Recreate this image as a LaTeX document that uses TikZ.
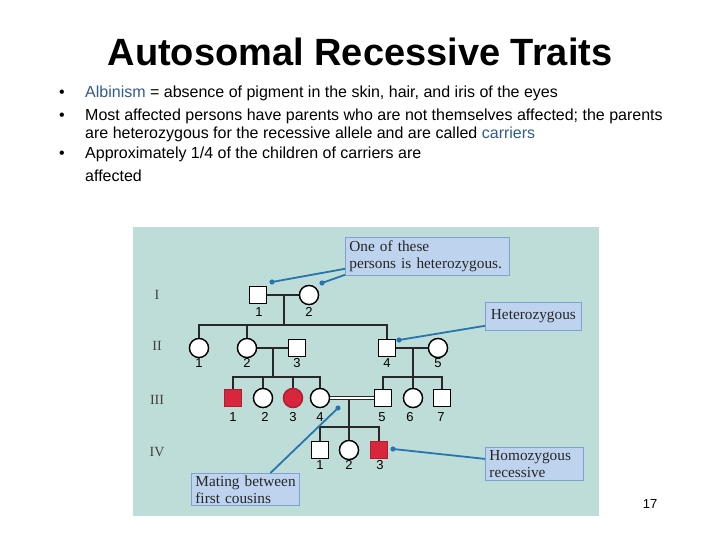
\documentclass[tikz,border=0pt]{standalone}
\usepackage{fontspec}
\setmainfont{Liberation Sans}
\newfontfamily\seriffam{Liberation Serif}
\usetikzlibrary{calc}
\definecolor{panelbg}{RGB}{191,221,216}
\definecolor{boxfill}{RGB}{190,212,238}
\definecolor{boxline}{RGB}{128,160,205}
\definecolor{ptrcol}{RGB}{38,118,174}
\definecolor{affred}{RGB}{216,38,60}
\definecolor{linkblue}{RGB}{51,92,138}
\definecolor{pedline}{RGB}{40,40,40}
\tikzset{
  sq/.style={draw=black, fill=white, line width=1.1pt, minimum size=16pt, inner sep=0pt, rectangle},
  circ/.style={draw=black, fill=white, line width=1.3pt, minimum size=19pt, inner sep=0pt, circle},
  aff/.style={fill=affred, draw=affred!80!black},
  num/.style={font=\fontsize{13}{14}\selectfont, inner sep=0pt},
  gen/.style={font=\seriffam\fontsize{14}{15}\selectfont, text=black!75, inner sep=0pt},
  ped/.style={draw=pedline, line width=1.3pt},
  callout/.style={draw=boxline, fill=boxfill, line width=0.8pt, font=\seriffam\fontsize{15.3}{17}\selectfont, text=black!85, inner xsep=4pt, inner ysep=2pt},
  ptr/.style={draw=ptrcol, line width=1.8pt},
  bul/.style={anchor=base west, font=\fontsize{16}{18}\selectfont, inner sep=0pt},
}
\begin{document}
\begin{tikzpicture}[x=1pt,y=-1pt]
\useasboundingbox (0,0) rectangle (720,540);
\fill[white] (0,0) rectangle (720,540);
% title
\node[font=\bfseries\fontsize{38}{42}\selectfont, anchor=base, inner sep=0pt] (title) at (360,66) {Autosomal Recessive Traits};
% bullets
\node[bul] (d1) at (59,98) {•};
\node[bul] (d2) at (59,121) {•};
\node[bul] (d3) at (59,159) {•};
\node[bul] (t1) at (85,98) {\textcolor{linkblue}{Albinism} = absence of pigment in the skin, hair, and iris of the eyes};
\node[bul] (t2) at (85,121) {Most affected persons have parents who are not themselves affected; the parents};
\node[bul] (t3) at (85,139) {are heterozygous for the recessive allele and are called \textcolor{linkblue}{carriers}};
\node[bul] (t4) at (85,159) {Approximately 1/4 of the children of carriers are};
\node[bul] (t5) at (85,182) {affected};
% panel
\fill[panelbg] (133,227) rectangle (599,516);
% generation labels
\node[gen] (gI) at (157,295) {I};
\node[gen] (gII) at (157,346) {II};
\node[gen] (gIII) at (157,400) {III};
\node[gen] (gIV) at (157,452) {IV};
% junction coordinates
\coordinate (m1) at (284,295);
\coordinate (s1) at (284,325);
\coordinate (m2) at (273,348);
\coordinate (s2) at (273,377);
\coordinate (m3) at (413,348);
\coordinate (s3) at (413,377);
\coordinate (m4) at (349,399);
\coordinate (s4) at (349,427);
% individuals
\node[sq] (i1) at (258,295) {};
\node[circ] (i2) at (309,295) {};
\node[circ] (ii1) at (199,348) {};
\node[circ] (ii2) at (247,348) {};
\node[sq] (ii3) at (297,348) {};
\node[sq] (ii4) at (387,348) {};
\node[circ] (ii5) at (438,348) {};
\node[sq,aff] (iii1) at (233,398) {};
\node[circ] (iii2) at (263,398) {};
\node[circ,aff] (iii3) at (293,398) {};
\node[circ] (iii4) at (320,398) {};
\node[sq] (iii5) at (383,398) {};
\node[circ] (iii6) at (413,398) {};
\node[sq] (iii7) at (442,398) {};
\node[sq] (iv1) at (320,450) {};
\node[circ] (iv2) at (349,450) {};
\node[sq,aff] (iv3) at (379,450) {};
% lines
\draw[ped] (i1) -- (i2);
\draw[ped] (m1) -- (s1);
\draw[ped] (ii1.north) |- (s1) -| (ii4.north);
\draw[ped] (ii2.north) -- (ii2.north |- s1);
\draw[ped] (ii2) -- (ii3);
\draw[ped] (m2) -- (s2);
\draw[ped] (iii1.north) |- (s2) -| (iii4.north);
\draw[ped] (iii2.north) -- (iii2.north |- s2);
\draw[ped] (iii3.north) -- (iii3.north |- s2);
\draw[ped] (ii4) -- (ii5);
\draw[ped] (m3) -- (s3);
\draw[ped] (iii5.north) |- (s3) -| (iii7.north);
\draw[ped] (s3) -- (iii6.north);
\draw[draw=pedline, line width=0.9pt, double=white, double distance=2pt] (iii4.east) -- (iii5.west);
\draw[ped] (m4) -- (s4);
\draw[ped] (iv1.north) |- (s4) -| (iv3.north);
\draw[ped] (s4) -- (iv2.north);
% redraw symbols on top
\foreach \n in {i1,ii3,ii4,iii5,iii7,iv1}{\draw[black, line width=1.1pt, fill=white] (\n.south west) rectangle (\n.north east);}
\foreach \n in {iii1,iv3}{\draw[affred!80!black, line width=1.1pt, fill=affred] (\n.south west) rectangle (\n.north east);}
\foreach \n in {i2,ii1,ii2,ii5,iii2,iii4,iii6,iv2}{\draw[black, line width=1.3pt, fill=white] (\n.center) circle (9.5pt);}
\draw[affred!80!black, line width=1.3pt, fill=affred] (iii3.center) circle (9.5pt);
% numbers
\node[num] (n_i1) at (259,312) {1};
\node[num] (n_i2) at (309,312) {2};
\node[num] (n_ii1) at (199,363) {1};
\node[num] (n_ii2) at (247,363) {2};
\node[num] (n_ii3) at (297,363) {3};
\node[num] (n_ii4) at (387,363) {4};
\node[num] (n_ii5) at (438,363) {5};
\node[num] (n_iii1) at (233,417) {1};
\node[num] (n_iii2) at (265,417) {2};
\node[num] (n_iii3) at (293,417) {3};
\node[num] (n_iii4) at (320,417) {4};
\node[num] (n_iii5) at (382,417) {5};
\node[num] (n_iii6) at (410,417) {6};
\node[num] (n_iii7) at (441,417) {7};
\node[num] (n_iv1) at (320,465) {1};
\node[num] (n_iv2) at (349,465) {2};
\node[num] (n_iv3) at (380,465) {3};
% callouts
\node[callout, anchor=north west, minimum width=164pt, minimum height=38pt, text width=156pt, align=left] (c1) at (345,237) {\mbox{One of these}\\\mbox{persons is heterozygous.}};
\node[callout, anchor=north west, minimum width=96pt, minimum height=28pt, align=center] (c2) at (485,302) {Heterozygous};
\node[callout, anchor=north west, minimum width=98pt, minimum height=33pt, text width=90pt, align=left] (c3) at (485,447) {\mbox{Homozygous}\\\mbox{recessive}};
\node[callout, anchor=north west, minimum width=108pt, minimum height=32pt, text width=100pt, align=left] (c4) at (191,473) {\mbox{Mating between}\\\mbox{first cousins}};
% pointers
\coordinate (p1) at (272,282);
\coordinate (p2) at (322,283);
\coordinate (p3) at (399,340);
\coordinate (p4) at (393,449);
\coordinate (p5) at (338,408);
\draw[ptr] ([yshift=7pt]c1.south west) -- (p1);
\draw[ptr] ([yshift=1pt]c1.south west) -- (p2);
\draw[ptr] ([yshift=5pt]c2.south west) -- (p3);
\draw[ptr] ([yshift=5pt]c3.west) -- (p4);
\draw[ptr] ([xshift=25pt]c4.north) -- (p5);
\foreach \p in {p1,p2,p3,p4,p5}{\fill[ptrcol] (\p) circle (2.6pt);}
% page number
\node[font=\fontsize{13}{14}\selectfont] (pg) at (650,504) {17};
\end{tikzpicture}
\end{document}
